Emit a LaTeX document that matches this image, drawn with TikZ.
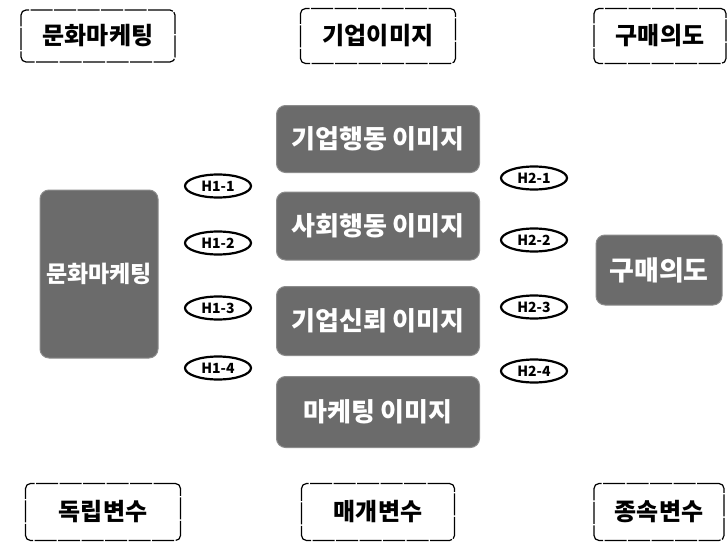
\documentclass[tikz,border=0pt]{standalone}
\usepackage{fontspec}
\setmainfont{Noto Sans CJK KR}
\usetikzlibrary{shapes.geometric}
\begin{document}
\begin{tikzpicture}[x=1pt,y=-1pt,
  labelbox/.style={draw=black,line width=1.2pt,rounded corners=5pt,dash pattern=on 22pt off 1.5pt,inner sep=0pt,font=\fontsize{24}{27}\selectfont\bfseries,text=black},
  graybox/.style={fill=black!58,draw=black!45,line width=1pt,rounded corners=9pt,inner sep=0pt,font=\fontsize{26}{29}\selectfont\bfseries,text=white},
  hyp/.style={ellipse,draw=black,line width=2.2pt,fill=white,minimum width=66pt,minimum height=23pt,inner sep=0pt,font=\fontsize{14}{15}\selectfont\bfseries}]
\useasboundingbox (0,0) rectangle (728,543);
% header / footer boxes
\node[labelbox,minimum width=154pt,minimum height=52pt] (h1) at (98,36) {문화마케팅};
\node[labelbox,minimum width=155pt,minimum height=55pt] (h2) at (378,36) {기업이미지};
\node[labelbox,minimum width=132pt,minimum height=55pt] (h3) at (660,36) {구매의도};
\node[labelbox,minimum width=155pt,minimum height=57pt] (f1) at (103,512) {독립변수};
\node[labelbox,minimum width=153pt,minimum height=57pt] (f2) at (378,512) {매개변수};
\node[labelbox,minimum width=130pt,minimum height=57pt] (f3) at (659,512) {종속변수};
% gray boxes
\node[graybox,minimum width=118pt,minimum height=168pt,font=\fontsize{23}{26}\selectfont\bfseries] (iv) at (99,274) {문화마케팅};
\node[graybox,minimum width=203pt,minimum height=67pt] (m1) at (378,139) {기업행동 이미지};
\node[graybox,minimum width=203pt,minimum height=68pt] (m2) at (378,226) {사회행동 이미지};
\node[graybox,minimum width=203pt,minimum height=69pt] (m3) at (378,321) {기업신뢰 이미지};
\node[graybox,minimum width=203pt,minimum height=71pt] (m4) at (378,412) {마케팅 이미지};
\node[graybox,minimum width=126pt,minimum height=70pt,font=\fontsize{27}{30}\selectfont\bfseries] (dv) at (659,270) {구매의도};
% hypothesis ellipses
\node[hyp] (a1) at (218,186) {H1-1};
\node[hyp] (a2) at (218,243) {H1-2};
\node[hyp] (a3) at (218,308) {H1-3};
\node[hyp] (a4) at (218,368) {H1-4};
\node[hyp] (b1) at (534,178) {H2-1};
\node[hyp] (b2) at (534,240) {H2-2};
\node[hyp] (b3) at (534,307) {H2-3};
\node[hyp] (b4) at (534,371) {H2-4};
\end{tikzpicture}
\end{document}
